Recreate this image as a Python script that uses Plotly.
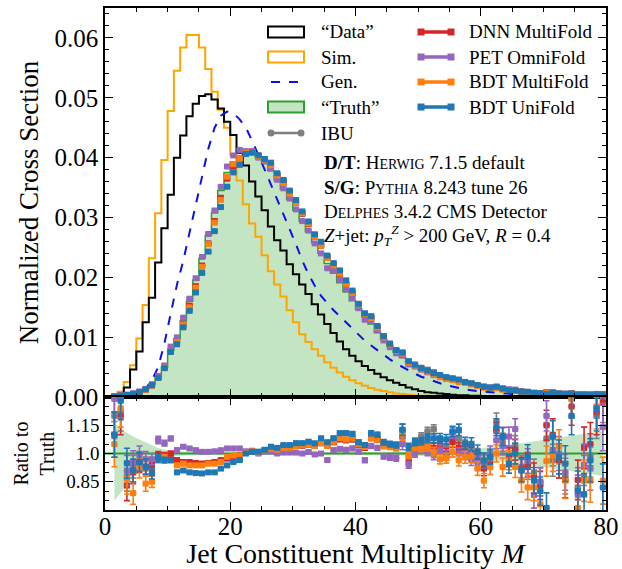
import plotly.graph_objects as go
from plotly.subplots import make_subplots

# ---------------- data ----------------
bin_edges = list(range(0, 81))
bin_centers = [e + 0.5 for e in range(80)]

data_vals = [0.0, 0.0001, 0.0004, 0.0016, 0.0046, 0.0076, 0.0125, 0.0166, 0.0225, 0.0282,
             0.0338, 0.0400, 0.0437, 0.0469, 0.0490, 0.0503, 0.0506, 0.0497, 0.0482, 0.0460,
             0.0438, 0.0408, 0.0387, 0.0360, 0.0335, 0.0312, 0.0285, 0.0262, 0.0245, 0.0222,
             0.0205, 0.0188, 0.0172, 0.0155, 0.0138, 0.0122, 0.0107, 0.0093, 0.0080, 0.0069,
             0.0060, 0.0052, 0.0045, 0.0039, 0.0033, 0.0028, 0.0024, 0.0020, 0.0016, 0.0013,
             0.0010, 0.0008, 0.0007, 0.0006, 0.0005, 0.0004, 0.0003, 0.0003, 0.0002, 0.0002,
             0.0001, 0.0001, 0.0001, 0.0001, 0.0, 0.0, 0.0, 0.0, 0.0, 0.0,
             0.0, 0.0, 0.0, 0.0, 0.0, 0.0, 0.0, 0.0, 0.0, 0.0]

sim_vals = [0.0, 0.0003, 0.0009, 0.0025, 0.0053, 0.0098, 0.0154, 0.0232, 0.0307, 0.0396,
            0.0478, 0.0545, 0.0584, 0.0605, 0.0605, 0.0584, 0.0548, 0.0510, 0.0480, 0.0450,
            0.0405, 0.0362, 0.0322, 0.0290, 0.0268, 0.0237, 0.0210, 0.0188, 0.0168, 0.0145,
            0.0125, 0.0105, 0.0092, 0.0080, 0.0069, 0.0058, 0.0049, 0.0041, 0.0034, 0.0028,
            0.0023, 0.0019, 0.0015, 0.0012, 0.0010, 0.0008, 0.0006, 0.0005, 0.0004, 0.0003,
            0.0002, 0.0002, 0.0001, 0.0001, 0.0001, 0.0, 0.0, 0.0, 0.0, 0.0,
            0.0, 0.0, 0.0, 0.0, 0.0, 0.0, 0.0, 0.0, 0.0, 0.0,
            0.0, 0.0, 0.0, 0.0, 0.0, 0.0, 0.0, 0.0, 0.0, 0.0]

gen_vals = [0.0, 0.0, 0.0001, 0.0001, 0.0002, 0.0006, 0.0014, 0.0028, 0.0050, 0.0090,
            0.0140, 0.0188, 0.0228, 0.0275, 0.0320, 0.0368, 0.0415, 0.0450, 0.0470, 0.0477,
            0.0474, 0.0464, 0.0450, 0.0428, 0.0405, 0.0380, 0.0355, 0.0330, 0.0305, 0.0282,
            0.0255, 0.0228, 0.0205, 0.0186, 0.0169, 0.0157, 0.0145, 0.0135, 0.0125, 0.0114,
            0.0104, 0.0094, 0.0086, 0.0078, 0.0070, 0.0063, 0.0056, 0.0050, 0.0044, 0.0039,
            0.0034, 0.0030, 0.0026, 0.0023, 0.0020, 0.0017, 0.0015, 0.0013, 0.0011, 0.0010,
            0.0009, 0.0008, 0.0007, 0.0006, 0.0005, 0.0004, 0.0004, 0.0003, 0.0003, 0.0002,
            0.0002, 0.0002, 0.0001, 0.0001, 0.0001, 0.0001, 0.0001, 0.0001, 0.0001, 0.0001]

truth_vals = [0.00001, 0.0001, 0.0002, 0.0004, 0.0006, 0.0009, 0.0014, 0.0022, 0.0033, 0.0050,
              0.0078, 0.0098, 0.0128, 0.0160, 0.0195, 0.0232, 0.0270, 0.0308, 0.0345, 0.0375,
              0.0393, 0.0402, 0.0406, 0.0405, 0.0400, 0.0390, 0.0378, 0.0363, 0.0347, 0.0330,
              0.0312, 0.0294, 0.0276, 0.0258, 0.0240, 0.0223, 0.0207, 0.0191, 0.0176, 0.0161,
              0.0147, 0.0134, 0.0122, 0.0108, 0.0096, 0.0085, 0.0075, 0.0066, 0.0058, 0.0051,
              0.0045, 0.0041, 0.0037, 0.0034, 0.0031, 0.0028, 0.0026, 0.0024, 0.0022, 0.0020,
              0.0018, 0.0016, 0.0015, 0.0013, 0.0012, 0.0011, 0.0010, 0.0009, 0.0008, 0.0008,
              0.0007, 0.0007, 0.0006, 0.0006, 0.0005, 0.0005, 0.0005, 0.0004, 0.0004, 0.0004]

ratio_ibu = [None, 1.20, 1.22, 0.88, 0.93, 0.96, 0.92, 0.92, 0.985, 0.985,
             0.990, 0.960, 0.955, 0.950, 0.946, 0.946, 0.950, 0.955, 0.962, 0.975,
             0.985, 0.992, 1.005, 1.010, 1.008, 1.018, 1.025, 1.020, 1.032, 1.033,
             1.040, 1.042, 1.048, 1.040, 1.055, 1.045, 1.060, 1.075, 1.072, 1.075,
             1.045, 1.030, 1.085, 1.075, 1.050, 1.045, 1.040, 1.126, 1.000, 1.063,
             1.090, 1.117, 1.130, 1.060, 1.040, 1.080, 1.081, 1.040, 1.030, 0.990,
             0.950, 0.980, 1.170, 1.060, 0.990, 1.040, 0.930, 0.928, 0.900, 0.850,
             1.080, 0.964, 0.960, 0.880, 1.290, 0.820, 0.880, 0.990, 1.200, 1.290]

ratio_dnn = [None, 1.10, 1.20, 0.83, 0.90, 0.95, 0.93, 0.94, 0.99, 0.99,
             1.000, 0.965, 0.955, 0.955, 0.950, 0.946, 0.950, 0.955, 0.965, 0.973,
             0.980, 0.990, 1.005, 1.012, 1.008, 1.018, 1.025, 1.022, 1.035, 1.035,
             1.042, 1.042, 1.048, 1.040, 1.055, 1.045, 1.060, 1.075, 1.070, 1.075,
             1.045, 1.030, 1.085, 1.075, 1.050, 1.045, 1.040, 1.090, 0.960, 1.040,
             1.050, 1.045, 1.030, 1.040, 1.000, 1.060, 1.030, 1.010, 1.000, 0.960,
             0.920, 0.960, 1.120, 1.090, 0.980, 1.020, 0.920, 0.940, 0.880, 0.830,
             1.150, 1.100, 0.960, 0.860, 1.250, 0.860, 1.030, 1.050, 1.220, 1.270]

ratio_pet = [None, 1.29, 1.29, 0.91, 0.955, 0.99, 0.97, 0.97, 1.072, 1.055,
             1.080, 1.018, 1.036, 1.027, 1.018, 1.009, 1.009, 1.012, 1.018, 1.027,
             1.027, 1.027, 1.012, 1.015, 1.000, 1.010, 1.010, 1.000, 1.005, 1.005,
             1.005, 1.000, 1.008, 0.995, 1.000, 0.965, 1.018, 1.025, 1.020, 1.027,
             1.010, 0.964, 1.040, 1.030, 0.985, 0.980, 0.975, 1.050, 0.940, 1.000,
             1.020, 1.010, 0.990, 1.020, 0.990, 1.110, 1.000, 1.000, 0.970, 0.950,
             0.960, 1.000, 1.070, 1.040, 1.090, 1.130, 0.910, 0.960, 0.780, 0.850,
             1.200, 1.020, 1.000, 0.900, 1.300, 0.780, 0.940, 0.920, 1.310, 1.140]

ratio_bdt_multi = [None, 1.05, 1.24, 0.865, 0.79, 0.92, 0.84, 0.85, 0.973, 0.980,
                   0.965, 0.937, 0.946, 0.937, 0.937, 0.937, 0.946, 0.946, 0.955, 0.982,
                   0.990, 0.990, 1.005, 1.012, 1.005, 1.018, 1.025, 1.020, 1.030, 1.030,
                   1.040, 1.045, 1.050, 1.040, 1.055, 1.040, 1.063, 1.081, 1.075, 1.080,
                   1.050, 1.035, 1.081, 1.075, 1.040, 1.036, 1.030, 1.100, 0.990, 1.036,
                   1.030, 1.036, 1.010, 0.970, 0.975, 1.009, 0.964, 0.980, 0.985, 0.920,
                   0.856, 0.928, 1.000, 0.928, 0.964, 0.928, 0.856, 0.820, 0.820, 0.730,
                   0.960, 0.990, 1.036, 0.856, 1.290, 0.711, 0.856, 0.856, 1.250, 0.856]

ratio_bdt_uni = [None, 1.10, 1.28, 0.948, 0.91, 0.955, 0.93, 0.895, 0.973, 0.965,
                 0.965, 0.900, 0.910, 0.900, 0.896, 0.894, 0.900, 0.900, 0.920, 0.937,
                 0.955, 0.965, 1.000, 1.009, 1.010, 1.020, 1.036, 1.030, 1.045, 1.045,
                 1.055, 1.055, 1.063, 1.054, 1.081, 1.060, 1.081, 1.108, 1.108, 1.105,
                 1.060, 1.045, 1.108, 1.100, 1.060, 1.050, 1.045, 1.126, 1.036, 1.060,
                 1.065, 1.081, 1.081, 1.081, 1.075, 1.117, 1.126, 1.054, 1.050, 1.009,
                 0.964, 0.982, 1.140, 1.090, 0.946, 1.000, 0.910, 0.982, 0.856, 0.800,
                 0.711, 1.090, 0.982, 0.946, 1.200, 0.802, 0.784, 0.964, 1.240, 0.820]

ratio_err = [None, 0.12, 0.10, 0.08, 0.06, 0.05, 0.04, 0.03, 0.02, 0.015,
             0.012, 0.010, 0.009, 0.008, 0.008, 0.007, 0.007, 0.007, 0.007, 0.007,
             0.007, 0.007, 0.007, 0.007, 0.007, 0.007, 0.007, 0.007, 0.007, 0.008,
             0.008, 0.008, 0.008, 0.009, 0.009, 0.009, 0.010, 0.010, 0.011, 0.011,
             0.012, 0.012, 0.013, 0.013, 0.014, 0.015, 0.016, 0.030, 0.018, 0.019,
             0.020, 0.022, 0.023, 0.025, 0.026, 0.028, 0.030, 0.032, 0.034, 0.036,
             0.038, 0.040, 0.045, 0.048, 0.050, 0.055, 0.060, 0.065, 0.070, 0.075,
             0.080, 0.085, 0.090, 0.095, 0.100, 0.105, 0.110, 0.115, 0.120, 0.125]

band_up = [None, 0.16, 0.13, 0.11, 0.09, 0.075, 0.06, 0.045, 0.03, 0.02,
           0.015, 0.012, 0.011, 0.010, 0.009, 0.008, 0.008, 0.007, 0.007, 0.007,
           0.006, 0.006, 0.006, 0.006, 0.006, 0.006, 0.006, 0.006, 0.006, 0.006,
           0.006, 0.006, 0.006, 0.006, 0.006, 0.006, 0.006, 0.006, 0.007, 0.007,
           0.007, 0.007, 0.008, 0.008, 0.008, 0.009, 0.009, 0.010, 0.010, 0.011,
           0.011, 0.012, 0.013, 0.014, 0.015, 0.016, 0.018, 0.020, 0.023, 0.026,
           0.030, 0.033, 0.037, 0.040, 0.045, 0.050, 0.055, 0.060, 0.065, 0.070,
           0.075, 0.080, 0.085, 0.090, 0.095, 0.100, 0.105, 0.110, 0.115, 0.120]

band_dn = [None, 0.25, 0.21, 0.17, 0.13, 0.10, 0.075, 0.055, 0.035, 0.022,
           0.015, 0.012, 0.011, 0.010, 0.009, 0.008, 0.008, 0.007, 0.007, 0.007,
           0.006, 0.006, 0.006, 0.006, 0.006, 0.006, 0.006, 0.006, 0.006, 0.006,
           0.006, 0.006, 0.006, 0.006, 0.006, 0.006, 0.006, 0.006, 0.007, 0.007,
           0.007, 0.007, 0.008, 0.008, 0.008, 0.009, 0.009, 0.010, 0.010, 0.011,
           0.011, 0.012, 0.013, 0.014, 0.015, 0.016, 0.018, 0.020, 0.023, 0.026,
           0.030, 0.033, 0.037, 0.040, 0.045, 0.050, 0.055, 0.060, 0.065, 0.070,
           0.075, 0.080, 0.085, 0.090, 0.095, 0.100, 0.105, 0.110, 0.115, 0.120]

methods = [
    ("IBU", ratio_ibu, "#7f7f7f"),
    ("DNN MultiFold", ratio_dnn, "#d62728"),
    ("PET OmniFold", ratio_pet, "#9467bd"),
    ("BDT MultiFold", ratio_bdt_multi, "#ff7f0e"),
    ("BDT UniFold", ratio_bdt_uni, "#1f77b4"),
]

FONT = "Liberation Serif"
GREEN = "#2ca02c"
GREEN_FILL = "rgba(44,160,44,0.28)"
SIM_C = "#FFA500"
GEN_C = "#1010e0"

fig = make_subplots(rows=2, cols=1, shared_xaxes=True, vertical_spacing=0,
                    row_heights=[0.775, 0.225])

def step_y(vals):
    return list(vals) + [vals[-1]]

# ---- main panel ----
fig.add_trace(go.Scatter(x=bin_edges, y=step_y(truth_vals), mode="lines", line_shape="hv",
                         fill="tozeroy", fillcolor=GREEN_FILL,
                         line=dict(color=GREEN, width=1.5), name="“Truth”"), row=1, col=1)
fig.add_trace(go.Scatter(x=bin_edges, y=step_y(sim_vals), mode="lines", line_shape="hv",
                         line=dict(color=SIM_C, width=2), name="Sim."), row=1, col=1)
fig.add_trace(go.Scatter(x=bin_edges, y=step_y(data_vals), mode="lines", line_shape="hv",
                         line=dict(color="black", width=2), name="“Data”"), row=1, col=1)
fig.add_trace(go.Scatter(x=bin_centers, y=gen_vals, mode="lines",
                         line=dict(color=GEN_C, width=2, dash="dash"), name="Gen."), row=1, col=1)

for name, ratio, color in methods:
    yv = [None if r is None else t * r for t, r in zip(truth_vals, ratio)]
    fig.add_trace(go.Scatter(x=bin_centers, y=yv, mode="markers", name=name,
                             marker=dict(symbol="square", size=6, color=color),
                             error_x=dict(type="constant", value=0.5, thickness=4,
                                          width=0, color=color)), row=1, col=1)

# ---- ratio panel ----
up = [None if b is None else 1 + b for b in band_up]
dn = [None if b is None else 1 - b for b in band_dn]
fig.add_trace(go.Scatter(x=bin_centers[1:], y=up[1:], mode="lines", line=dict(width=0),
                         hoverinfo="skip"), row=2, col=1)
fig.add_trace(go.Scatter(x=bin_centers[1:], y=dn[1:], mode="lines", line=dict(width=0),
                         fill="tonexty", fillcolor=GREEN_FILL, hoverinfo="skip"), row=2, col=1)
truth_ratio = [t / t for t in truth_vals]
fig.add_trace(go.Scatter(x=bin_edges, y=step_y(truth_ratio), mode="lines", line_shape="hv",
                         line=dict(color=GREEN, width=1.8)), row=2, col=1)

for name, ratio, color in methods:
    fig.add_trace(go.Scatter(x=bin_centers, y=ratio, mode="markers", name=name,
                             marker=dict(symbol="square", size=6, color=color),
                             error_x=dict(type="constant", value=0.5, thickness=2.5,
                                          width=0, color=color),
                             error_y=dict(type="data", array=ratio_err, thickness=1.6,
                                          width=3, color=color)), row=2, col=1)

axis_common = dict(showline=True, linecolor="black", linewidth=1.5, mirror="ticks",
                   ticks="inside", ticklen=8, tickwidth=1.2, tickcolor="black",
                   showgrid=False, zeroline=False, automargin=False)

fig.update_xaxes(range=[0, 80], dtick=20, tick0=0,
                 minor=dict(ticks="inside", dtick=5, ticklen=4, tickcolor="black", tickwidth=1),
                 **axis_common)
fig.update_xaxes(showticklabels=False, row=1, col=1)
fig.update_xaxes(title=dict(text="Jet Constituent Multiplicity <i>M</i>",
                            font=dict(size=28, family=FONT, color="black"), standoff=10),
                 tickfont=dict(size=25, family=FONT, color="black"),
                 ticklabelstandoff=-7, row=2, col=1)

fig.update_yaxes(range=[0, 0.065], dtick=0.01, tick0=0, tickformat=".2f",
                 minor=dict(ticks="inside", dtick=0.002, ticklen=4, tickcolor="black", tickwidth=1),
                 tickfont=dict(size=25, family=FONT, color="black"),
                 title=dict(text="Normalized Cross Section",
                            font=dict(size=27, family=FONT, color="black"), standoff=8),
                 row=1, col=1, **axis_common)
fig.update_yaxes(range=[0.7, 1.3], tickmode="array", tickvals=[0.85, 1.0, 1.15],
                 ticktext=["0.85", "1.0", "1.15"],
                 minor=dict(ticks="inside", tickmode="array",
                            tickvals=[0.75, 0.8, 0.9, 0.95, 1.05, 1.1, 1.2, 1.25],
                            ticklen=4, tickcolor="black", tickwidth=1),
                 tickfont=dict(size=19, family=FONT, color="black"),
                 title=dict(text="Ratio to<br>Truth",
                            font=dict(size=20, family=FONT, color="black"), standoff=6),
                 row=2, col=1, **axis_common)

# ---- manual legend (pixel -> paper helpers) ----
L, T, W, H = 105, 8, 501, 502
def px(x):
    return (x - L) / W
def py(y):
    return (T + H - y) / H

shapes = []
annos = []
rows_y = [32, 57, 82, 107, 133]
leg_font = dict(size=19, family=FONT, color="black")

col1 = [("“Data”", "box", "black", "white"),
        ("Sim.", "box", SIM_C, "white"),
        ("Gen.", "dash", GEN_C, None),
        ("“Truth”", "box", GREEN, GREEN_FILL),
        ("IBU", "ibu", "#7f7f7f", None)]
for (label, kind, col, fillc), yy in zip(col1, rows_y):
    if kind == "box":
        shapes.append(dict(type="rect", xref="paper", yref="paper",
                           x0=px(268), x1=px(304), y0=py(yy + 5.5), y1=py(yy - 5.5),
                           line=dict(color=col, width=2), fillcolor=fillc))
    elif kind == "dash":
        shapes.append(dict(type="line", xref="paper", yref="paper",
                           x0=px(271), x1=px(301), y0=py(yy), y1=py(yy),
                           line=dict(color=col, width=2, dash="dash")))
    else:
        shapes.append(dict(type="line", xref="paper", yref="paper",
                           x0=px(271), x1=px(301), y0=py(yy), y1=py(yy),
                           line=dict(color=col, width=2.5)))
        for cx in (271, 301):
            shapes.append(dict(type="circle", xref="paper", yref="paper",
                               x0=px(cx - 3.5), x1=px(cx + 3.5), y0=py(yy + 3.5), y1=py(yy - 3.5),
                               line=dict(color=col, width=0), fillcolor=col))
    annos.append(dict(x=px(319), y=py(yy), xref="paper", yref="paper", text=label,
                      showarrow=False, xanchor="left", yanchor="middle", font=leg_font))

col2 = [("DNN MultiFold", "#d62728"), ("PET OmniFold", "#9467bd"),
        ("BDT MultiFold", "#ff7f0e"), ("BDT UniFold", "#1f77b4")]
for (label, col), yy in zip(col2, rows_y):
    shapes.append(dict(type="line", xref="paper", yref="paper",
                       x0=px(421), x1=px(451), y0=py(yy), y1=py(yy),
                       line=dict(color=col, width=3.5)))
    for cx in (421, 451):
        shapes.append(dict(type="rect", xref="paper", yref="paper",
                           x0=px(cx - 3.5), x1=px(cx + 3.5), y0=py(yy + 3.5), y1=py(yy - 3.5),
                           line=dict(color=col, width=0), fillcolor=col))
    annos.append(dict(x=px(467), y=py(yy), xref="paper", yref="paper", text=label,
                      showarrow=False, xanchor="left", yanchor="middle", font=leg_font))

sc = "font-size:14px"
info_lines = [
    f"<b>D/T</b>: H<span style='{sc}'>ERWIG</span> 7.1.5 default",
    f"<b>S/G</b>: P<span style='{sc}'>YTHIA</span> 8.243 tune 26",
    f"D<span style='{sc}'>ELPHES</span> 3.4.2 CMS Detector",
    "<i>Z</i>+jet: <i>p</i><sub><i>T</i></sub><sup><i>Z</i></sup> > 200 GeV, <i>R</i> = 0.4",
]
for line, yy in zip(info_lines, [163, 187, 211, 235]):
    annos.append(dict(x=px(322), y=py(yy), xref="paper", yref="paper", text=line,
                      showarrow=False, xanchor="left", yanchor="middle",
                      font=dict(size=19, family=FONT, color="black")))

fig.update_layout(width=622, height=569, margin=dict(l=105, r=16, t=8, b=59),
                  plot_bgcolor="white", paper_bgcolor="white", showlegend=False,
                  font=dict(family=FONT, color="black"),
                  shapes=shapes, annotations=annos)

fig.write_html("out.html")
